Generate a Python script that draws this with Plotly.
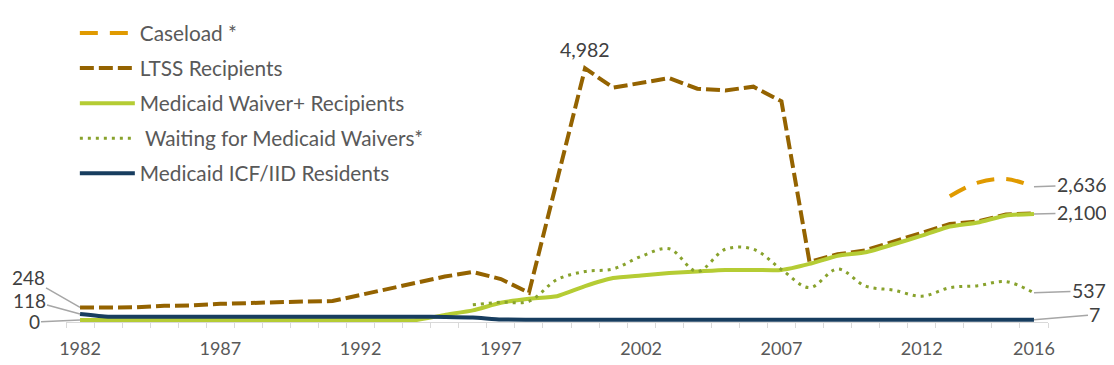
import plotly.graph_objects as go

years = list(range(1982, 2017))

ltss = [248, 248, 250, 280, 290, 320, 330, 335, 365, 375, 500, 620, 740, 860, 950, 810, 540,
        2760, 4982, 4600, 4690, 4790, 4580, 4545, 4620, 4330, 1150, 1300, 1380, 1560, 1740,
        1900, 1950, 2090, 2110]
waiver = [0] * 13 + [100, 190, 340, 420, 470, 670, 830, 880, 930, 960, 990, 990, 990, 1110,
                     1270, 1340, 1500, 1670, 1850, 1930, 2070, 2100]
waiting = [None] * 14 + [300, 350, 370, 800, 960, 1010, 1260, 1410, 960, 1400, 1400, 1000,
                         640, 1010, 670, 590, 470, 640, 680, 760, 537]
icf = [118] + [65] * 12 + [60, 50, 10] + [7] * 19
caseload = [None] * 31 + [2450, 2720, 2790, 2636]

tick_years = [1982, 1987, 1992, 1997, 2002, 2007, 2012, 2016]

FONT = "Lato"
fig = go.Figure()
fig.add_trace(go.Scatter(x=years, y=caseload, name="Caseload *", mode="lines",
                         line=dict(color="#E09A00", width=4, dash="18px,12px", shape="spline"),
                         legendgroup="a"))
fig.add_trace(go.Scatter(x=years, y=ltss, name="LTSS Recipients", mode="lines",
                         line=dict(color="#946300", width=4, dash="14px,5px"),
                         legendgroup="b"))
fig.add_trace(go.Scatter(x=years, y=waiver, name="Medicaid Waiver+ Recipients", mode="lines",
                         line=dict(color="#B5CC34", width=4, shape="spline", smoothing=0.5),
                         legendgroup="c"))
fig.add_trace(go.Scatter(x=years, y=waiting, name=" Waiting for Medicaid Waivers*", mode="lines",
                         line=dict(color="#88A22C", width=3, dash="3px,5px", shape="spline"),
                         legendgroup="d"))
fig.add_trace(go.Scatter(x=years, y=icf, name="Medicaid ICF/IID Residents", mode="lines",
                         line=dict(color="#173D5F", width=4, shape="spline", smoothing=0.5),
                         legendgroup="e"))

ann_font = dict(family=FONT, size=19.5, color="#404040")
left_font = dict(family=FONT, size=19, color="#404040")
annos = [
    dict(x=2000, y=4982, text="4,982", showarrow=False, yshift=19),
    dict(x=1982, y=ltss[0], text="248", ax=-52, ay=-30, font=left_font),
    dict(x=1982, y=icf[0], text="118", ax=-51, ay=-14, font=left_font),
    dict(x=1982, y=waiver[0], text="0", ax=-46, ay=2, font=left_font),
    dict(x=2016, y=caseload[-1], text="2,636", ax=48, ay=-2),
    dict(x=2016, y=waiver[-1], text="2,100", ax=48, ay=-1),
    dict(x=2016, y=waiting[-1], text="537", ax=55, ay=-2),
    dict(x=2016, y=icf[-1], text="7", ax=61, ay=-5),
]
for a in annos:
    a.setdefault("showarrow", True)
    if a["showarrow"]:
        a.update(arrowhead=0, arrowcolor="#A6A6A6", arrowwidth=1.5, axref="pixel", ayref="pixel")
    a.setdefault("font", ann_font)
    fig.add_annotation(**a)

fig.update_layout(
    width=1106, height=357,
    margin=dict(l=58, r=66, t=12, b=43, autoexpand=False),
    paper_bgcolor="white", plot_bgcolor="white",
    font=dict(family=FONT, size=18, color="#595959"),
    showlegend=True,
    legend=dict(x=0.009, y=1.023, xanchor="left", yanchor="top", traceorder="grouped",
                tracegroupgap=5, itemwidth=55, bgcolor="rgba(0,0,0,0)", maxheight=340,
                font=dict(family=FONT, size=20.8, color="#595959")),
    xaxis=dict(range=[1981.5, 2016.5], tickvals=tick_years, ticks="outside", ticklen=10,
               tickcolor="rgba(0,0,0,0)", showgrid=False, zeroline=False, showline=True,
               linecolor="#D9D9D9", linewidth=1, automargin=False,
               tickfont=dict(family=FONT, size=18, color="#595959"),
               minor=dict(tick0=1981.5, dtick=1, ticks="outside", ticklen=5, tickcolor="#D9D9D9",
                          showgrid=False)),
    yaxis=dict(range=[-40, 5940], visible=False, showgrid=False, zeroline=False,
               automargin=False),
)

fig.write_html("out.html")
